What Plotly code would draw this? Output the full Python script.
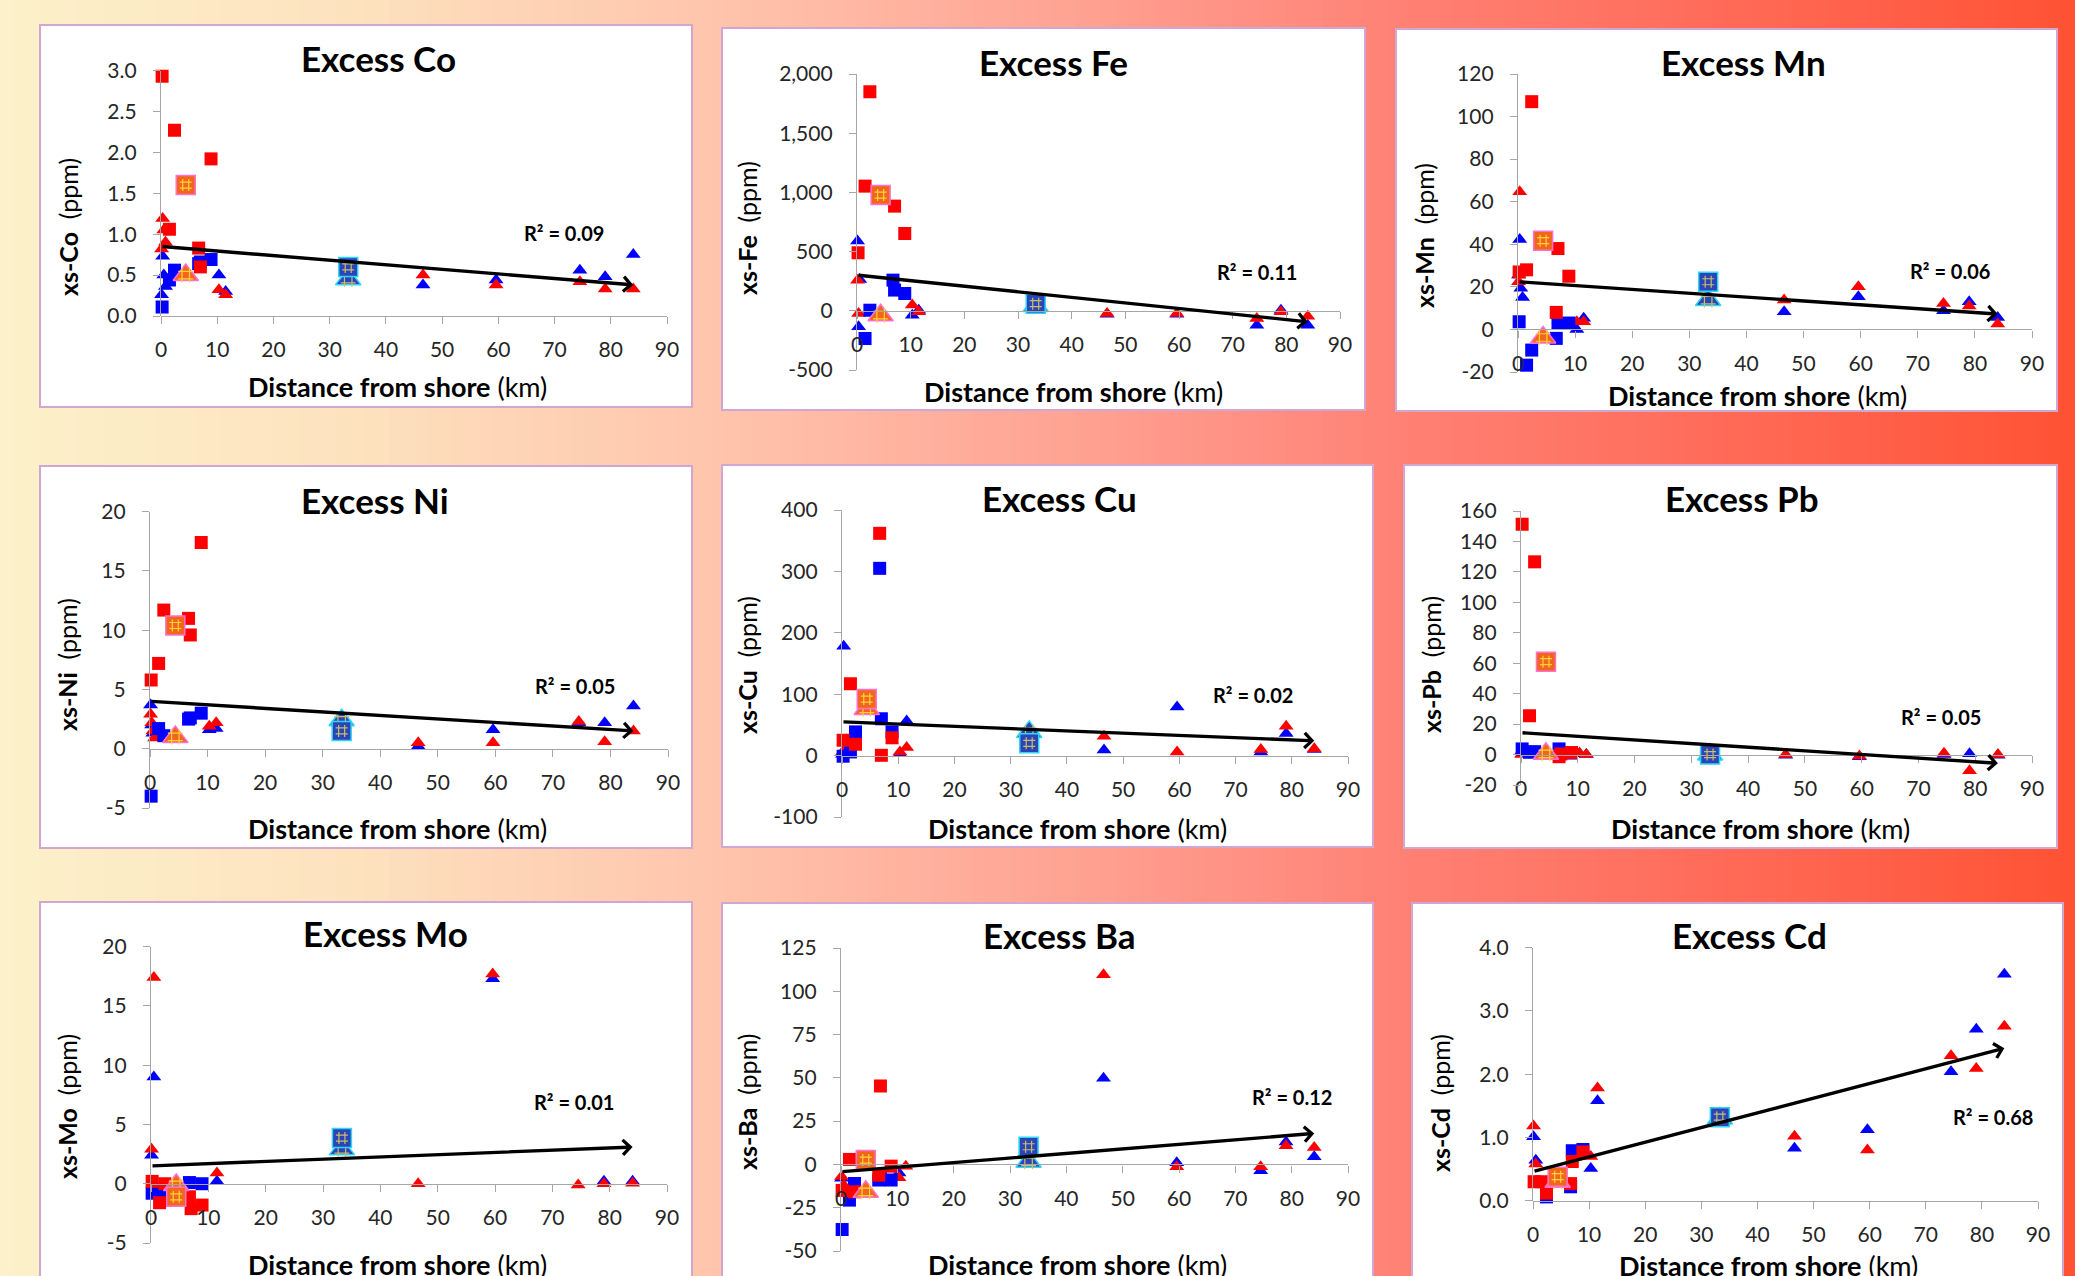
import plotly.graph_objects as go

W, H = 2075, 1276

# ---------------- data ----------------
SQ_X = [0.2, 1.5, 2.4, 6.7, 7.0, 8.9]                      # square stations (km)
TRI_X = [0.1, 0.3, 0.5, 0.8, 10.3, 11.5, 46.6, 59.6, 74.5, 79.0, 84.0]  # triangle stations (km)
MEAN_X = [4.4, 4.4, 33.3, 33.3]                             # patterned markers
TREND_X = [0, 84]
X_TICKS = [0, 10, 20, 30, 40, 50, 60, 70, 80, 90]
X_TICK_LABELS = ["0", "10", "20", "30", "40", "50", "60", "70", "80", "90"]

# Co
co_red_sq = [2.93, 1.06, 2.27, 0.83, 0.60, 1.92]
co_blue_sq = [0.11, 0.44, 0.56, 0.64, 0.66, 0.69]
co_red_tri = [0.82, 1.19, 1.05, 0.90, 0.32, 0.26, 0.50, 0.38, 0.42, 0.33, 0.33]
co_blue_tri = [0.26, 0.73, 0.50, 0.36, 0.50, 0.30, 0.38, 0.44, 0.56, 0.48, 0.75]
co_mean = [1.60, 0.50, 0.60, 0.45]
co_trend = [0.85, 0.38]
co_ticks = [0, 0.5, 1.0, 1.5, 2.0, 2.5, 3.0]
co_tick_labels = ["0.0", "0.5", "1.0", "1.5", "2.0", "2.5", "3.0"]

# Fe
fe_red_sq = [490, 1053, 1850, None, 884, 653]
fe_blue_sq = [None, -234, 5, 259, 175, 146]
fe_red_tri = [259, -22, None, None, 48, -8, -22, -22, -65, -8, -45]
fe_blue_tri = [590, -135, 265, None, -37, 5, -30, -30, -121, 5, -121]
fe_mean = [977, -37, 60, 40]
fe_trend = [301, -93]
fe_ticks = [-500, 0, 500, 1000, 1500, 2000]
fe_tick_labels = ["-500", "0", "500", "1,000", "1,500", "2,000"]

# Mn
mn_red_sq = [27, 28, 107, 8, 38, 25]
mn_blue_sq = [3.6, -16.8, -9.7, -4.2, 2.8, 3.0]
mn_red_tri = [22.4, 64.7, None, None, 3.6, 3.6, 13.8, 20, 12.2, 11, 2.5]
mn_blue_tri = [25.6, 42.3, 19.3, 15, 0, 5.2, 8.3, 15.4, 8.8, 13, 5.6]
mn_mean = [41.7, -3.8, 22.4, 13.8]
mn_trend = [22.4, 7.2]
mn_ticks = [-20, 0, 20, 40, 60, 80, 100, 120]
mn_tick_labels = ["-20", "0", "20", "40", "60", "80", "100", "120"]

# Ni
ni_red_sq = [5.8, 7.2, 11.7, 11.0, 9.6, 17.4]
ni_blue_sq = [-4.0, 1.7, 1.1, 2.5, 2.6, 3.0]
ni_red_tri = [2.9, 2.2, 1.5, 0.9, 1.9, 2.2, 0.5, 0.5, 2.3, 0.6, 1.5]
ni_blue_tri = [3.7, 2.0, 1.3, None, 1.6, 1.7, 0.2, 1.6, 2.2, 2.2, 3.6]
ni_mean = [10.4, 1.0, 1.5, 2.4]
ni_trend = [4.0, 1.5]
ni_ticks = [-5, 0, 5, 10, 15, 20]
ni_tick_labels = ["-5", "0", "5", "10", "15", "20"]

# Cu
cu_red_sq = [25, 117, 18.5, 362, 0.5, 29]
cu_blue_sq = [-1, 6, 38.6, 305, 60, 38.6]
cu_red_tri = [6, None, None, None, 6, 13, 31.5, 6, 10, 48, 11]
cu_blue_tri = [2, 178, None, None, 3, 56.5, 9, 79, 6, 36, 10]
cu_mean = [92, 76, 20, 38.6]
cu_trend = [55, 24]
cu_ticks = [-100, 0, 100, 200, 300, 400]
cu_tick_labels = ["-100", "0", "100", "200", "300", "400"]

# Pb
pb_red_sq = [151.3, 25.5, 126.6, -1.4, 0.4, 1.3]
pb_blue_sq = [3.7, 1.5, 1.9, 3.7, 1.0, 1.0]
pb_red_tri = [0, None, None, None, 1, 0, 0, -1, 0.8, -10.6, 0]
pb_blue_tri = [2, None, None, None, 0.5, 0, -0.5, -1.5, 0, 0.5, -0.5]
pb_mean = [61, 0.5, 0, 0]
pb_trend = [14.4, -5.7]
pb_ticks = [-20, 0, 20, 40, 60, 80, 100, 120, 140, 160]
pb_tick_labels = ["-20", "0", "20", "40", "60", "80", "100", "120", "140", "160"]

# Mo
mo_red_sq = [0.2, -1.6, 0, -1.1, -2.1, -1.8]
mo_blue_sq = [-0.8, -0.6, -0.5, 0.1, None, 0]
mo_red_tri = [2.9, None, 17.4, None, None, 0.9, 0, 17.7, -0.1, 0, 0.05]
mo_blue_tri = [2.4, None, 9.0, None, None, 0.2, None, 17.3, None, 0.2, 0.2]
mo_mean = [-1.1, -0.1, 3.85, 2.9]
mo_trend = [1.5, 3.1]
mo_ticks = [-5, 0, 5, 10, 15, 20]
mo_tick_labels = ["-5", "0", "5", "10", "15", "20"]

# Ba
ba_red_sq = [-15, 2.9, -15.8, -6.2, 45.3, -1]
ba_blue_sq = [-37.6, -20.6, -11, -9, -8, -9]
ba_red_tri = [-7, None, -12, None, -7.7, -1, 109.6, -1.4, -1.4, 10.8, 9.8]
ba_blue_tri = [-8, None, None, None, -5, None, 49.8, 1, -3.7, 13, 4.4]
ba_mean = [2.5, -15.8, 10.2, 1.5]
ba_trend = [-4.2, 17.9]
ba_ticks = [-50, -25, 0, 25, 50, 75, 100, 125]
ba_tick_labels = ["-50", "-25", "0", "25", "50", "75", "100", "125"]

# Cd
cd_red_sq = [0.3, 0.3, 0.12, 0.27, 0.62, 0.77]
cd_blue_sq = [-0.02, None, 0.06, 0.22, 0.79, 0.81]
cd_red_tri = [1.18, None, 0.58, None, 0.7, 1.78, 1.02, 0.8, 2.29, 2.09, 2.76]
cd_blue_tri = [1.01, None, 0.64, None, 0.51, 1.58, 0.83, 1.12, 2.04, 2.71, 3.58]
cd_mean = [0.38, 0.30, 1.32, 1.30]
cd_trend = [0.46, 2.41]
cd_ticks = [0, 1, 2, 3, 4]
cd_tick_labels = ["0.0", "1.0", "2.0", "3.0", "4.0"]

R2_TEXT = ["R² = 0.09", "R² = 0.11", "R² = 0.06", "R² = 0.05", "R² = 0.02",
           "R² = 0.05", "R² = 0.01", "R² = 0.12", "R² = 0.68"]
R2_POS = [(71.6, 1.01), (74.5, 329), (75.7, 27.6), (73.9, 5.3), (73.1, 98),
          (74.0, 24.9), (73.7, 6.9), (80.0, 39.2), (82.0, 1.32)]

PANELS = [
    ("Co", co_red_sq, co_blue_sq, co_red_tri, co_blue_tri, co_mean, co_trend, co_ticks, co_tick_labels),
    ("Fe", fe_red_sq, fe_blue_sq, fe_red_tri, fe_blue_tri, fe_mean, fe_trend, fe_ticks, fe_tick_labels),
    ("Mn", mn_red_sq, mn_blue_sq, mn_red_tri, mn_blue_tri, mn_mean, mn_trend, mn_ticks, mn_tick_labels),
    ("Ni", ni_red_sq, ni_blue_sq, ni_red_tri, ni_blue_tri, ni_mean, ni_trend, ni_ticks, ni_tick_labels),
    ("Cu", cu_red_sq, cu_blue_sq, cu_red_tri, cu_blue_tri, cu_mean, cu_trend, cu_ticks, cu_tick_labels),
    ("Pb", pb_red_sq, pb_blue_sq, pb_red_tri, pb_blue_tri, pb_mean, pb_trend, pb_ticks, pb_tick_labels),
    ("Mo", mo_red_sq, mo_blue_sq, mo_red_tri, mo_blue_tri, mo_mean, mo_trend, mo_ticks, mo_tick_labels),
    ("Ba", ba_red_sq, ba_blue_sq, ba_red_tri, ba_blue_tri, ba_mean, ba_trend, ba_ticks, ba_tick_labels),
    ("Cd", cd_red_sq, cd_blue_sq, cd_red_tri, cd_blue_tri, cd_mean, cd_trend, cd_ticks, cd_tick_labels),
]

# ---------------- layout geometry (pixels) ----------------
PLOT_PX = [(161, 667, 70.5, 316), (857, 1340, 74, 370), (1518, 2032, 74, 372),
           (150, 668, 511.7, 808), (842, 1348, 510, 817), (1521, 2032, 511, 785),
           (151, 667, 946.7, 1243), (841, 1348, 948, 1251), (1533, 2038, 947.7, 1200.7)]
FRAME_PX = [(40, 25, 692, 407), (722, 28, 1365, 410), (1396, 29, 2057, 411),
            (40, 466, 692, 848), (722, 465, 1373, 847), (1404, 465, 2057, 848),
            (40, 902, 692, 1300), (722, 903, 1373, 1300), (1412, 903, 2063, 1300)]
TITLE_PX = [(378, 58), (1053, 62), (1743, 62), (375, 500), (1059, 498), (1742, 498),
            (385, 933), (1059, 935), (1749, 935)]
YT_PX = [(68, 227), (747, 228), (1424, 236), (67, 665), (747, 665), (1431, 665),
         (67, 1107), (747, 1102), (1440, 1103)]
XT_PX = [(397, 387), (1073, 391), (1757, 395), (397, 828), (1077, 828), (1760, 828),
         (397, 1264), (1077, 1264), (1768, 1265)]

FONT = "Lato, 'Liberation Sans', sans-serif"
AX = "#A6A6A6"
RED = "#FF0000"
BLUE = "#0000FF"


def px(x):
    return x / W


def py(y):
    return 1 - y / H


fig = go.Figure()
shapes = []
annotations = []

# background gradient
stops = [(0.0, (252, 241, 202)), (0.17, (253, 226, 190)), (0.34, (255, 197, 173)),
         (0.5, (255, 166, 150)), (0.67, (255, 130, 118)), (0.85, (255, 104, 84)),
         (1.0, (255, 82, 52))]


def grad(t):
    for (t0, c0), (t1, c1) in zip(stops[:-1], stops[1:]):
        if t0 <= t <= t1:
            f = (t - t0) / (t1 - t0)
            return tuple(int(round(a + (b - a) * f)) for a, b in zip(c0, c1))
    return stops[-1][1]


N = 160
for k in range(N):
    t0, t1 = k / N, (k + 1) / N
    c = grad((t0 + t1) / 2)
    shapes.append(dict(type="rect", xref="paper", yref="paper", x0=t0, x1=min(1, t1 + 0.002),
                       y0=0, y1=1, fillcolor="rgb(%d,%d,%d)" % c, line=dict(width=0), layer="below"))

layout_axes = {}
for i, (name, rsq, bsq, rtri, btri, mean, trend, yticks, ylabels) in enumerate(PANELS, start=1):
    sfx = "" if i == 1 else str(i)
    xr, yr = "x" + sfx, "y" + sfx
    fx0, fy0, fx1, fy1 = FRAME_PX[i - 1]
    shapes.append(dict(type="rect", xref="paper", yref="paper", x0=px(fx0), x1=px(fx1),
                       y0=py(fy1), y1=py(fy0), fillcolor="white",
                       line=dict(color="#D2A6D2", width=2), layer="below"))
    x0, x1, yt, yb = PLOT_PX[i - 1]
    ymin, ymax = yticks[0], yticks[-1]
    dy = [py(yb), py(yt)]
    zero = dy[0] + (0 - ymin) / (ymax - ymin) * (dy[1] - dy[0])
    layout_axes["xaxis" + sfx] = dict(
        domain=[px(x0), px(x1)], range=[0, 90], anchor="free", position=zero,
        showline=True, linecolor=AX, linewidth=1.3, ticks="outside", ticklen=7,
        tickcolor=AX, tickwidth=1.3, tickvals=X_TICKS, ticktext=X_TICK_LABELS,
        tickfont=dict(family=FONT, size=21, color="#262626"), showgrid=False,
        zeroline=False, ticklabelstandoff=8, automargin=False)
    layout_axes["yaxis" + sfx] = dict(
        domain=dy, range=[ymin, ymax], anchor=xr, showline=True, linecolor=AX,
        linewidth=1.3, ticks="outside", ticklen=7, tickcolor=AX, tickwidth=1.3,
        tickvals=yticks, ticktext=ylabels, tickfont=dict(family=FONT, size=21, color="#262626"),
        showgrid=False, zeroline=False, ticklabelstandoff=12, automargin=False)

    common = dict(xaxis=xr, yaxis=yr, mode="markers", showlegend=False, cliponaxis=False,
                  hoverinfo="x+y")
    fig.add_trace(go.Scatter(x=TRI_X, y=btri, marker=dict(symbol="triangle-up", size=13, color=BLUE,
                                                          line=dict(width=0)), **common))
    fig.add_trace(go.Scatter(x=TRI_X, y=rtri, marker=dict(symbol="triangle-up", size=13, color=RED,
                                                          line=dict(width=0)), **common))
    fig.add_trace(go.Scatter(x=SQ_X, y=bsq, marker=dict(symbol="square", size=13, color=BLUE,
                                                        line=dict(width=0)), **common))
    fig.add_trace(go.Scatter(x=SQ_X, y=rsq, marker=dict(symbol="square", size=13, color=RED,
                                                        line=dict(width=0)), **common))
    # patterned markers: near-shore (orange) and offshore (blue)
    mx = MEAN_X
    sym = ["square", "triangle-up", "square", "triangle-up"]
    sz = [19, 22, 19, 22]
    fill = ["#F2661C", "#F2661C", "#2B45B8", "#2B45B8"]
    edge = ["#FF6FD0", "#FF6FD0", "#2FD5F5", "#2FD5F5"]
    dots = ["#FFD23C", "#FFD23C", "#C8C068", "#C8C068"]
    order = [1, 0, 3, 2]
    for j in order:
        fig.add_trace(go.Scatter(x=[mx[j]], y=[mean[j]],
                                 marker=dict(symbol=sym[j], size=sz[j], color=fill[j],
                                             line=dict(color=edge[j], width=1.5)), **common))
        fig.add_trace(go.Scatter(x=[mx[j]], y=[mean[j]],
                                 marker=dict(symbol="hash-open", size=sz[j] - 7, color=dots[j],
                                             line=dict(width=1.2)), **common))

    # trend arrow
    annotations.append(dict(x=TREND_X[1], y=trend[1], ax=TREND_X[0], ay=trend[0],
                            xref=xr, yref=yr, axref=xr, ayref=yr, text="", showarrow=True,
                            arrowhead=4, arrowsize=0.85, arrowwidth=3.4, arrowcolor="black",
                            standoff=0, startstandoff=0))
    # R² label
    annotations.append(dict(x=R2_POS[i - 1][0], y=R2_POS[i - 1][1], xref=xr, yref=yr,
                            xanchor="center", yanchor="middle",
                            text="<b>%s</b>" % R2_TEXT[i - 1], showarrow=False,
                            font=dict(family=FONT, size=20, color="black")))
    # title
    tx, ty = TITLE_PX[i - 1]
    annotations.append(dict(x=px(tx), y=py(ty), xref="paper", yref="paper",
                            xanchor="center", yanchor="middle",
                            text="<b>Excess %s</b>" % name, showarrow=False,
                            font=dict(family=FONT, size=35, color="black")))
    # y title
    ytx, yty = YT_PX[i - 1]
    annotations.append(dict(x=px(ytx), y=py(yty), xref="paper", yref="paper", textangle=-90,
                            xanchor="center", yanchor="middle",
                            text="<b>xs-%s</b>  (ppm)" % name, showarrow=False,
                            font=dict(family=FONT, size=25, color="black")))
    # x title
    xtx, xty = XT_PX[i - 1]
    annotations.append(dict(x=px(xtx), y=py(xty), xref="paper", yref="paper",
                            xanchor="center", yanchor="middle",
                            text="<b>Distance from shore</b> (km)", showarrow=False,
                            font=dict(family=FONT, size=27, color="black")))

fig.update_layout(
    width=W, height=H, margin=dict(l=0, r=0, t=0, b=0, pad=0, autoexpand=False),
    paper_bgcolor="rgb(255,170,150)", plot_bgcolor="rgba(0,0,0,0)",
    shapes=shapes, annotations=annotations, showlegend=False,
    font=dict(family=FONT), **layout_axes)

fig.write_html("out.html", config={"displayModeBar": False},
               post_script="document.body.style.margin='0';document.body.style.overflow='hidden';")
